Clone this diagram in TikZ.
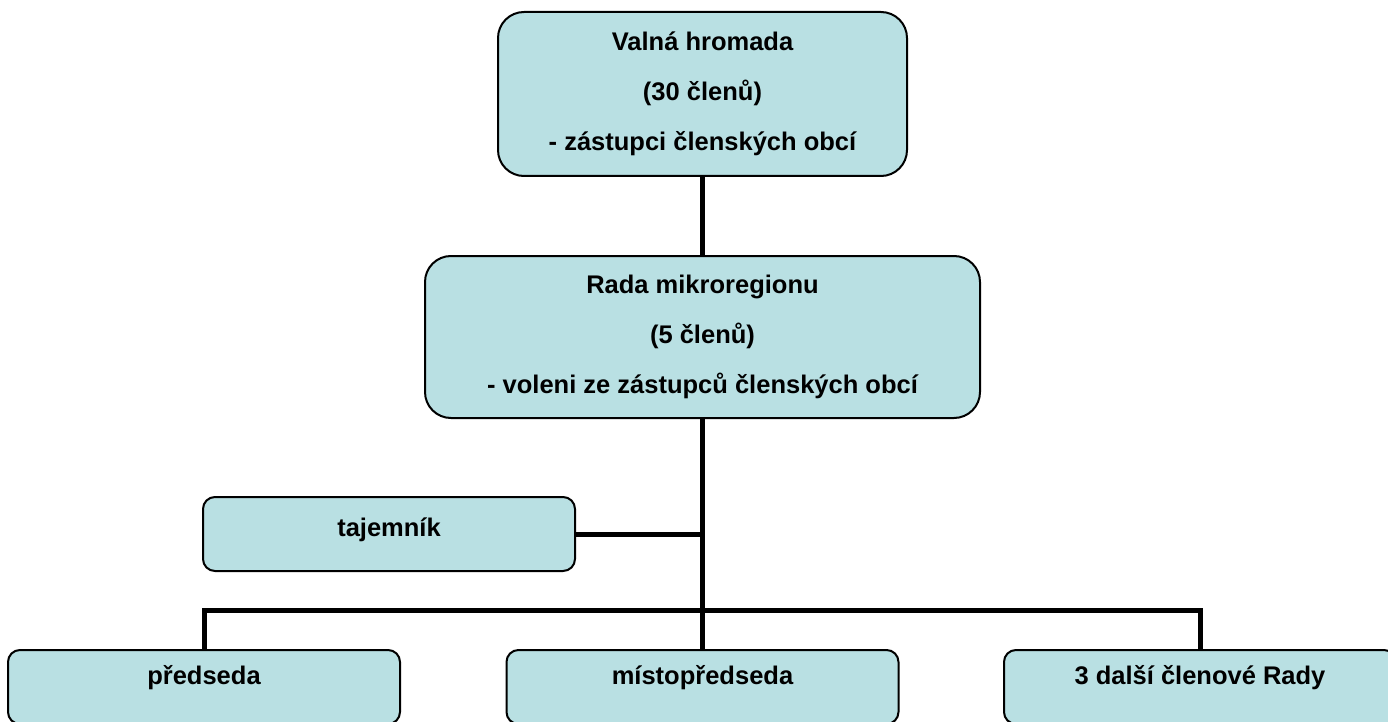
\documentclass[tikz,border=0pt]{standalone}
\usepackage{fontspec}
\setmainfont{Liberation Sans}
\usetikzlibrary{positioning}
\definecolor{boxFill}{RGB}{185,224,227}
\newcommand{\boxFont}{\fontsize{12.75}{25}\selectfont\bfseries}

\begin{document}
\begin{tikzpicture}[x=0.5pt,y=-0.5pt,
    bigBox/.style={draw=black,line width=1pt,fill=boxFill,rounded corners=13pt,
        align=center,font=\boxFont,inner sep=0pt},
    smallBox/.style={draw=black,line width=1pt,fill=boxFill,rounded corners=6pt,
        minimum height=37pt,text height=9pt,text depth=12pt,font=\boxFont,inner sep=0pt},
    link/.style={line width=2.5pt}]

    \useasboundingbox (0,0) rectangle (1388,722);

    %draws upper boxes:
    \node[bigBox,minimum width=204.5pt,minimum height=82pt] (valna) at (702.5,94)
        {Valná hromada\\(30 členů)\\- zástupci členských obcí};
    \node[bigBox,minimum width=277.5pt,minimum height=81pt] (rada) at (702.5,337)
        {Rada mikroregionu\\(5 členů)\\- voleni ze zástupců členských obcí};

    %draws lower boxes:
    \node[smallBox,minimum width=186pt,text depth=7pt] (tajemnik) at (389,534) {tajemník};
    \node[smallBox,minimum width=196pt] (predseda) at (204,687) {předseda};
    \node[smallBox,minimum width=196pt] (mistopredseda) at (702.5,687) {místopředseda};
    \node[smallBox,minimum width=196pt] (clenove) at (1200,687) {3 další členové Rady};

    \coordinate (bus) at (702.5,610);

    %draws connectors:
    \draw[link] (valna) -- (rada);
    \draw[link] (rada) -- (bus);
    \draw[link] (tajemnik.east) -- (tajemnik.east -| bus);
    \draw[link] (predseda.north) |- (bus) -| (clenove.north);
    \draw[link] (bus) -- (mistopredseda.north);

\end{tikzpicture}
\end{document}
